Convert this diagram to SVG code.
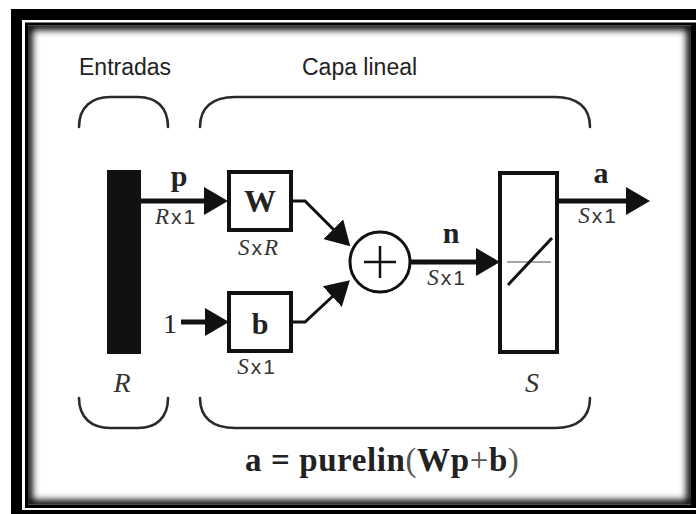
<svg xmlns="http://www.w3.org/2000/svg" width="696" height="514" viewBox="0 0 696 514">
<defs>
  <style>
    .brace{fill:none;stroke:#2a2a2a;stroke-width:2.6;stroke-linecap:round}
    .box{fill:#fff;stroke:#111;stroke-width:4}
    .wire{fill:none;stroke:#111;stroke-width:5}
    .thin{fill:none;stroke:#111;stroke-width:3}
    .hdr{font-family:"Liberation Sans",Arial,sans-serif;font-size:23px;fill:#222}
    .bold{font-family:"Liberation Serif","Times New Roman",serif;font-weight:bold;fill:#222}
    .ital{font-family:"Liberation Serif","Times New Roman",serif;font-style:italic;fill:#333}
    .dim{font-family:"Liberation Sans",Arial,sans-serif;font-size:21px;fill:#333;letter-spacing:2px}
  </style>
  <marker id="ah" viewBox="0 -14 24 28" refX="1" refY="0" markerWidth="24" markerHeight="28" markerUnits="userSpaceOnUse" orient="auto">
    <path d="M0,-14 L24,0 L0,14 z" fill="#111"/>
  </marker>
  <clipPath id="inner"><rect x="28" y="25.5" width="663" height="479"/></clipPath>
  <filter id="blur" x="-10%" y="-10%" width="120%" height="120%"><feGaussianBlur stdDeviation="3.5"/></filter>
</defs>

<!-- frame -->
<g id="frame">
  <rect x="11" y="9" width="700" height="520" fill="#000"/>
  <rect x="22" y="20" width="690" height="490" fill="#fff"/>
  <rect x="25" y="22.5" width="690" height="485.5" fill="#000"/>
  <rect x="28" y="25.5" width="663" height="479" fill="#fff"/>
  <g clip-path="url(#inner)">
    <rect x="28" y="25.5" width="663" height="479" fill="none" stroke="#000" stroke-width="9" filter="url(#blur)"/>
  </g>
</g>

<!-- headers and braces -->
<g id="entradas">
  <text class="hdr" x="79" y="75">Entradas</text>
  <path class="brace" d="M79,127 C79,107 92,97 110,97 L138,97 C156,97 168,107 168,127"/>
  <path class="brace" d="M79,398 C79,418 92,428 110,428 L138,428 C156,428 168,418 168,398"/>
</g>
<g id="capa">
  <text class="hdr" x="302" y="75">Capa lineal</text>
  <path class="brace" d="M200,127 C200,107 213,97 235,97 L555,97 C577,97 590,107 590,127"/>
  <path class="brace" d="M200,398 C200,418 213,428 235,428 L555,428 C577,428 590,418 590,398"/>
</g>

<!-- connectors -->
<g id="connectors">
  <line class="wire" x1="141" y1="201" x2="205" y2="201" marker-end="url(#ah)"/>
  <line class="wire" x1="181" y1="322" x2="206" y2="322" marker-end="url(#ah)"/>
  <polyline class="thin" points="291,201 305,201 334,230" marker-end="url(#ah)"/>
  <polyline class="thin" points="291,322 305,322 333,296" marker-end="url(#ah)"/>
  <line class="wire" x1="410" y1="262" x2="477" y2="262" marker-end="url(#ah)"/>
  <line class="wire" x1="557" y1="201" x2="627" y2="201" marker-end="url(#ah)"/>
</g>

<!-- input bar -->
<g id="input">
  <rect x="107" y="170" width="34" height="184" fill="#111"/>
  <text class="ital" x="122" y="392" font-size="28" text-anchor="middle">R</text>
  <text class="bold" x="179" y="186" font-size="30" text-anchor="middle">p</text>
  <text class="dim" x="176" y="224" text-anchor="middle"><tspan class="ital" font-size="23">R</tspan>x1</text>
  <text x="170" y="333" font-family="Liberation Serif, serif" font-size="28" fill="#222" text-anchor="middle">1</text>
</g>

<!-- weight -->
<g id="W">
  <rect class="box" x="229" y="172" width="62" height="58"/>
  <text class="bold" x="260" y="212" font-size="32" text-anchor="middle">W</text>
  <text class="dim" x="259" y="255" text-anchor="middle"><tspan class="ital" font-size="23">S</tspan>x<tspan class="ital" font-size="23">R</tspan></text>
</g>

<!-- bias -->
<g id="b">
  <rect class="box" x="229" y="293" width="62" height="58"/>
  <text class="bold" x="260" y="334" font-size="30" text-anchor="middle">b</text>
  <text class="dim" x="257" y="374" text-anchor="middle"><tspan class="ital" font-size="23">S</tspan>x1</text>
</g>

<!-- summation -->
<g id="sum">
  <circle cx="380" cy="262" r="30" fill="#fff" stroke="#111" stroke-width="3"/>
  <path d="M364,262 H396 M380,246 V278" stroke="#111" stroke-width="2.5"/>
  <text class="bold" x="451" y="243" font-size="30" text-anchor="middle">n</text>
  <text class="dim" x="447" y="285" text-anchor="middle"><tspan class="ital" font-size="23">S</tspan>x1</text>
</g>

<!-- transfer function -->
<g id="purelin">
  <rect class="box" x="500" y="173" width="57" height="179"/>
  <line x1="507" y1="262" x2="551" y2="262" stroke="#888" stroke-width="1.5"/>
  <line x1="508" y1="285" x2="552" y2="238" stroke="#111" stroke-width="3"/>
  <text class="ital" x="532" y="392" font-size="28" text-anchor="middle">S</text>
</g>

<!-- output -->
<g id="output">
  <text class="bold" x="601" y="183" font-size="30" text-anchor="middle">a</text>
  <text class="dim" x="598" y="223" text-anchor="middle"><tspan class="ital" font-size="23">S</tspan>x1</text>
</g>

<g id="formula">
  <text class="bold" x="245" y="471" font-size="33" letter-spacing="0.6">a = purelin<tspan font-weight="normal" fill="#555">(</tspan>Wp<tspan font-weight="normal" fill="#555">+</tspan>b<tspan font-weight="normal" fill="#555">)</tspan></text>
</g>
</svg>
